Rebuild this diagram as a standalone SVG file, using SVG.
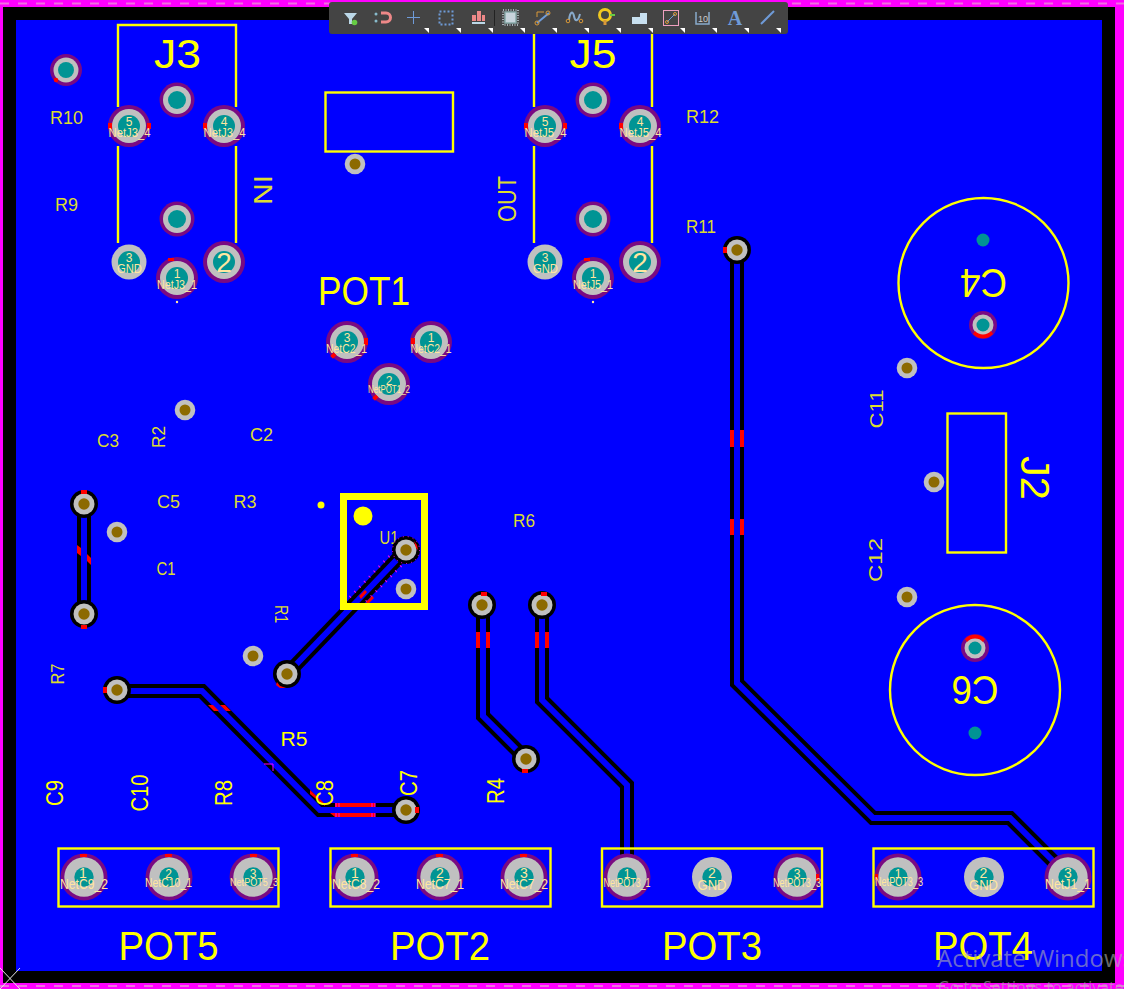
<svg xmlns="http://www.w3.org/2000/svg" width="1124" height="989" viewBox="0 0 1124 989">
<style>
text{font-family:"Liberation Sans","DejaVu Sans",sans-serif}
.sk{fill:none;stroke:#ff0;stroke-width:2.4}
.big{fill:#ff0;font-size:40px;text-anchor:middle}
.mid{fill:#ff0;font-size:23px;text-anchor:middle}
.dim{fill:#dcdc30;font-size:18px;text-anchor:middle}
.num{fill:#ffe6a0;font-size:12px;text-anchor:middle}
.net{fill:#ffe6a0;font-size:12px;text-anchor:middle}
.pur{fill:#7a0a82}.gry{fill:#c0c0c0}.tea{fill:#009494}.bro{fill:#8c6a00}.blk{fill:#000}.red{fill:#f00}
.tro{fill:none;stroke:#000;stroke-width:14;stroke-linejoin:miter}
.tri{fill:none;stroke:#00f;stroke-width:6;stroke-linejoin:miter}
.ico{fill:none;stroke:#6f9bd8;stroke-width:2}
.tb{fill:#fff}
</style>
<defs>
<g id="padL"><circle r="21" class="pur"/><circle r="17" class="gry"/><circle r="11" class="tea"/></g>
<g id="padM"><circle r="17.5" class="pur"/><circle r="14" class="gry"/><circle r="9" class="tea"/></g>
<g id="padS"><circle r="14" class="pur"/><circle r="10.5" class="gry"/><circle r="6.5" class="tea"/></g>
<g id="padR"><circle r="16" class="pur"/><circle r="12.500" class="gry"/><circle r="8" class="tea"/></g>
<g id="padG"><circle r="17.5" class="gry"/><circle r="11" class="tea"/></g>
<g id="padP"><circle r="23.5" class="pur"/><circle r="19.7" class="gry"/><circle r="9.7" class="tea"/></g>
<g id="padQ"><circle r="20" class="gry"/><circle r="9.7" class="tea"/></g>
<g id="via"><circle r="10.3" class="gry"/><circle r="5.5" class="bro"/></g>
<g id="viaB"><circle r="14" class="blk"/><circle r="10.5" class="gry"/><circle r="5.7" class="bro"/></g>
<path id="tg" d="M5 0V-5H0Z" class="tb"/>
</defs>

<g id="board">
<rect width="1124" height="989" fill="#f0f"/>
<path d="M0 3.500H1124" stroke="#f070e0" stroke-width="2" stroke-dasharray="9 9" fill="none"/>
<path d="M0 986H1124" stroke="#f070e0" stroke-width="2" stroke-dasharray="9 9" fill="none"/>
<rect x="3" y="7" width="1112" height="976" fill="#000"/>
<rect x="16" y="20" width="1086" height="951" fill="#00f"/>
<path d="M0 968L20 989M0 989L20 968" stroke="#e8e8e8" stroke-width="1" fill="none"/>
</g>

<g id="connectors">
<g id="t1"><path class="tro" d="M117 691H202L320 810H406"/><path class="tri" d="M117 691H202L320 810H406"/></g>
<g id="t2"><path class="tro" d="M287 674L406 550"/><path class="tri" d="M287 674L406 550"/></g>
<g id="t3"><path class="tro" d="M483 605V716L526 759"/><path class="tri" d="M483 605V716L526 759"/></g>
<g id="t4"><path class="tro" d="M542 605V700L627 785V870"/><path class="tri" d="M542 605V700L627 785V870"/></g>
<g id="t5"><path class="tro" d="M737 250V683L873 818H1010L1070 878"/><path class="tri" d="M737 250V683L873 818H1010L1070 878"/></g>
<g id="t6"><path class="tro" d="M84 504V614"/><path class="tri" d="M84 504V614"/></g>
<g id="marks">
<rect class="red" x="730" y="430" width="4" height="17"/><rect class="red" x="740" y="430" width="4" height="17"/>
<rect class="red" x="730" y="519" width="4" height="16"/><rect class="red" x="740" y="519" width="4" height="16"/>
<rect class="red" x="476" y="632" width="4" height="16"/><rect class="red" x="486" y="632" width="4" height="16"/>
<rect class="red" x="535" y="632" width="4" height="16"/><rect class="red" x="545" y="632" width="4" height="16"/>
<path class="red" d="M77 545L81 548V556L77 553ZM87 554L91 558V565L87 561Z"/>
<path class="red" d="M208 705L213 705L219 711L214 711ZM220 705L225 705L231 711L226 711Z"/>
<path d="M264 764L273 764V771" fill="none" stroke="#f0f" stroke-width="1"/>
<path class="red" d="M310 790L325 804L325 806L310 794ZM335 803H375V807H335ZM330 813H375V817H335Z"/>
<path d="M336 803V807M339 803V807M372 803V807M375 803V807M336 813V817M339 813V817M372 813V817M375 813V817" stroke="#f0f" stroke-width="1" fill="none"/>
<path d="M399 546L349 598M411 556L361 607" stroke="#f0f" stroke-width="2.500" stroke-dasharray="1 6" fill="none"/>
<path class="red" d="M359 596L365 590L367 592L361 599ZM366 602L372 596L374 598L368 604Z"/>
</g>
</g>

<g id="silk">
<path class="sk" d="M118 107V25H236V107M118 146V243M236 146V243"/>
<path class="sk" d="M534 34V107M652 34V107M534 146V243M652 146V243"/>
<rect class="sk" x="325.500" y="92.500" width="127.500" height="59"/>
<rect class="sk" x="947.500" y="413.500" width="58.500" height="139"/>
<rect class="sk" x="58.500" y="848.500" width="220" height="58"/>
<rect class="sk" x="330.500" y="848.500" width="220" height="58"/>
<rect class="sk" x="602" y="848.500" width="220" height="58"/>
<rect class="sk" x="873.500" y="848.500" width="220" height="58"/>
<circle class="sk" cx="983.500" cy="283" r="85"/>
<circle class="sk" cx="975" cy="690" r="85"/>
<rect x="343.500" y="496.500" width="81" height="110" fill="none" stroke="#ff0" stroke-width="7"/>
<circle cx="363" cy="516" r="9.500" fill="#ff0"/>
<circle cx="321" cy="505" r="3.500" fill="#ff0"/>
<circle cx="177" cy="302" r="1.200" fill="#ffe6a0"/>
<circle cx="593" cy="302" r="1.200" fill="#ffe6a0"/>
</g>

<g id="labels">
<text class="big" x="177.500" y="68" textLength="47" lengthAdjust="spacingAndGlyphs">J3</text>
<text class="big" x="593" y="68" textLength="47" lengthAdjust="spacingAndGlyphs">J5</text>
<text class="big" x="364" y="305" textLength="92" lengthAdjust="spacingAndGlyphs">POT1</text>
<text class="big" x="168.500" y="960" textLength="100" lengthAdjust="spacingAndGlyphs">POT5</text>
<text class="big" x="440" y="960" textLength="100" lengthAdjust="spacingAndGlyphs">POT2</text>
<text class="big" x="712" y="960" textLength="100" lengthAdjust="spacingAndGlyphs">POT3</text>
<text class="big" x="983" y="960" textLength="100" lengthAdjust="spacingAndGlyphs">POT4</text>
<text class="big" transform="translate(983.500 283) rotate(180)" y="14" textLength="47" lengthAdjust="spacingAndGlyphs">C4</text>
<text class="big" transform="translate(975 690) rotate(180)" y="14" textLength="47" lengthAdjust="spacingAndGlyphs">C6</text>
<text class="big" transform="translate(1035 478) rotate(90)" y="14" textLength="44" lengthAdjust="spacingAndGlyphs">J2</text>
<text class="dim" x="66.500" y="124" textLength="33" lengthAdjust="spacingAndGlyphs">R10</text>
<text class="dim" x="66.500" y="211" textLength="23" lengthAdjust="spacingAndGlyphs">R9</text>
<text class="dim" x="702.500" y="123" textLength="33" lengthAdjust="spacingAndGlyphs">R12</text>
<text class="dim" x="701" y="233" textLength="30" lengthAdjust="spacingAndGlyphs">R11</text>
<text class="dim" x="108" y="447" textLength="22" lengthAdjust="spacingAndGlyphs">C3</text>
<text class="dim" x="261.500" y="441" textLength="23" lengthAdjust="spacingAndGlyphs">C2</text>
<text class="dim" x="168.500" y="508" textLength="23" lengthAdjust="spacingAndGlyphs">C5</text>
<text class="dim" x="245" y="508" textLength="23" lengthAdjust="spacingAndGlyphs">R3</text>
<text class="dim" x="166" y="575" textLength="19" lengthAdjust="spacingAndGlyphs">C1</text>
<text class="dim" x="524" y="527" textLength="22" lengthAdjust="spacingAndGlyphs">R6</text>
<text class="dim" x="389" y="544" textLength="19" lengthAdjust="spacingAndGlyphs">U1</text>
<text class="dim" transform="translate(158 437) rotate(-90)" y="6.500" textLength="22" lengthAdjust="spacingAndGlyphs">R2</text>
<text class="dim" transform="translate(281 614) rotate(90)" y="6.500" textLength="18" lengthAdjust="spacingAndGlyphs">R1</text>
<text class="dim" transform="translate(57 674) rotate(-90)" y="6.500" textLength="21" lengthAdjust="spacingAndGlyphs">R7</text>
<text class="dim" transform="translate(876 409) rotate(-90)" y="6.500" textLength="39" lengthAdjust="spacingAndGlyphs">C11</text>
<text class="dim" transform="translate(875 560) rotate(-90)" y="6.500" textLength="44" lengthAdjust="spacingAndGlyphs">C12</text>
<text class="dim" style="font-size:25px" transform="translate(263 190) rotate(90)" y="9" textLength="30" lengthAdjust="spacingAndGlyphs">IN</text>
<text class="dim" style="font-size:25px" transform="translate(507 199) rotate(-90)" y="9" textLength="46" lengthAdjust="spacingAndGlyphs">OUT</text>
<text class="mid" style="font-size:20px" x="294" y="746" textLength="27" lengthAdjust="spacingAndGlyphs">R5</text>
<text class="mid" transform="translate(55 793) rotate(-90)" y="8" textLength="26" lengthAdjust="spacingAndGlyphs">C9</text>
<text class="mid" transform="translate(140 793) rotate(-90)" y="8" textLength="37" lengthAdjust="spacingAndGlyphs">C10</text>
<text class="mid" transform="translate(224 793) rotate(-90)" y="8" textLength="26" lengthAdjust="spacingAndGlyphs">R8</text>
<text class="mid" transform="translate(325 793) rotate(-90)" y="8" textLength="26" lengthAdjust="spacingAndGlyphs">C8</text>
<text class="mid" transform="translate(409 783) rotate(-90)" y="8" textLength="26" lengthAdjust="spacingAndGlyphs">C7</text>
<text class="mid" transform="translate(496 791) rotate(-90)" y="8" textLength="26" lengthAdjust="spacingAndGlyphs">R4</text>
</g>

<g id="R10-pad"><use href="#padR" x="66" y="70"/><circle cx="56" cy="80" r="2.200" class="red"/></g>
<g id="J3-shell"><use href="#padM" x="177" y="100"/><use href="#padM" x="177" y="219"/></g>
<g id="J3-5"><use href="#padL" x="129" y="126"/><rect class="red" x="108" y="123" width="4" height="6"/><rect class="red" x="147" y="123" width="4" height="6"/><text class="num" x="129" y="126">5</text><text class="net" x="129.500" y="137" textLength="42" lengthAdjust="spacingAndGlyphs">NetJ3_4</text></g>
<g id="J3-4"><use href="#padL" x="224" y="126"/><rect class="red" x="203" y="123" width="4" height="6"/><text class="num" x="224" y="126">4</text><text class="net" x="224.500" y="137" textLength="42" lengthAdjust="spacingAndGlyphs">NetJ3_4</text></g>
<g id="J3-3"><use href="#padG" x="129" y="262"/><text class="num" x="129" y="262">3</text><text class="net" x="129.500" y="273" textLength="25" lengthAdjust="spacingAndGlyphs">GND</text></g>
<g id="J3-1"><use href="#padL" x="177" y="278"/><rect class="red" x="168" y="258" width="6" height="3"/><text class="num" x="177" y="278">1</text><text class="net" x="177" y="289" textLength="40" lengthAdjust="spacingAndGlyphs">NetJ3_1</text></g>
<g id="J3-2"><use href="#padL" x="224" y="262"/><text x="224" y="272" fill="#ffe6a0" font-size="28" text-anchor="middle">2</text></g>

<g id="J5-shell"><use href="#padM" x="593" y="100"/><use href="#padM" x="593" y="219"/></g>
<g id="J5-5"><use href="#padL" x="545" y="126"/><rect class="red" x="524" y="123" width="4" height="6"/><rect class="red" x="563" y="123" width="4" height="6"/><text class="num" x="545" y="126">5</text><text class="net" x="545.500" y="137" textLength="42" lengthAdjust="spacingAndGlyphs">NetJ5_4</text></g>
<g id="J5-4"><use href="#padL" x="640" y="126"/><rect class="red" x="619" y="123" width="4" height="6"/><text class="num" x="640" y="126">4</text><text class="net" x="640.500" y="137" textLength="42" lengthAdjust="spacingAndGlyphs">NetJ5_4</text></g>
<g id="J5-3"><use href="#padG" x="545" y="262"/><text class="num" x="545" y="262">3</text><text class="net" x="545.500" y="273" textLength="25" lengthAdjust="spacingAndGlyphs">GND</text></g>
<g id="J5-1"><use href="#padL" x="593" y="278"/><rect class="red" x="584" y="258" width="6" height="3"/><text class="num" x="593" y="278">1</text><text class="net" x="593" y="289" textLength="40" lengthAdjust="spacingAndGlyphs">NetJ5_1</text></g>
<g id="J5-2"><use href="#padL" x="640" y="262"/><text x="640" y="272" fill="#ffe6a0" font-size="28" text-anchor="middle">2</text></g>

<g id="POT1-3"><use href="#padL" x="347" y="342"/><rect class="red" x="364" y="338" width="4" height="7"/><rect class="red" x="331" y="354" width="5" height="4" transform="rotate(-45 333 356)"/><text class="num" x="347" y="342">3</text><text class="net" x="346.500" y="353" textLength="41" lengthAdjust="spacingAndGlyphs">NetC2_1</text></g>
<g id="POT1-1"><use href="#padL" x="431" y="342"/><rect class="red" x="411" y="338" width="4" height="6"/><text class="num" x="431" y="342">1</text><text class="net" x="431" y="353" textLength="41" lengthAdjust="spacingAndGlyphs">NetC2_1</text></g>
<g id="POT1-2"><use href="#padL" x="389" y="384"/><rect class="red" x="373" y="396" width="5" height="4" transform="rotate(-45 375 398)"/><text class="num" x="389" y="385">2</text><text class="net" style="font-size:10px" x="389" y="393" textLength="42" lengthAdjust="spacingAndGlyphs">NetPOT1_2</text></g>

<g id="vias">
<use href="#via" x="355" y="164"/><use href="#via" x="185" y="410"/><use href="#via" x="117" y="532"/><use href="#via" x="253" y="656"/>
<use href="#via" x="406" y="589"/><use href="#via" x="907" y="368"/><use href="#via" x="934" y="482"/><use href="#via" x="907" y="597"/>
</g>
<g id="U1-pad"><use href="#viaB" x="406" y="550"/><circle cx="406" cy="550" r="13.500" fill="none" stroke="#f0f" stroke-width="1" stroke-dasharray="1 4"/><path class="red" d="M414 541L417 545L418 550L416 548Z"/></g>
<g id="track-ends">
<use href="#viaB" x="84" y="504"/><rect class="red" x="81" y="490" width="6" height="4"/>
<use href="#viaB" x="84" y="614"/><rect class="red" x="81" y="625" width="6" height="4"/>
<use href="#viaB" x="117" y="690"/><rect class="red" x="103" y="687" width="4" height="6"/>
<use href="#viaB" x="287" y="674"/><path class="red" d="M277 682L280 686L286 688L280 688L276 685Z"/>
<use href="#viaB" x="406" y="810"/><rect class="red" x="415" y="807" width="4" height="6"/>
<use href="#viaB" x="482" y="605"/><rect class="red" x="481" y="592" width="6" height="4"/>
<use href="#viaB" x="542" y="605"/><rect class="red" x="541" y="592" width="6" height="4"/>
<use href="#viaB" x="526" y="759"/><rect class="red" x="522" y="769" width="6" height="4"/>
<use href="#viaB" x="737" y="250"/><rect class="red" x="723" y="247" width="4" height="6"/>
</g>

<g id="C4-pad"><use href="#padS" x="983" y="325"/><path class="red" d="M973 334A14 14 0 0 0 993 334L991 331A11 11 0 0 1 975 331Z"/><circle cx="983" cy="240" r="6.500" class="tea"/></g>
<g id="C6-pad"><use href="#padS" x="975" y="648"/><path class="red" d="M965 639A14 14 0 0 1 985 639L983 642A11 11 0 0 0 967 642Z"/><circle cx="975" cy="733" r="6.500" class="tea"/></g>

<g id="POT5">
<g id="POT5-1"><use href="#padP" x="84" y="877"/><rect class="red" x="80" y="854" width="7" height="3"/><text class="num" x="83" y="878" style="font-size:14px">1</text><text class="net" x="84" y="889" style="font-size:14px" textLength="48" lengthAdjust="spacingAndGlyphs">NetC9_2</text></g>
<g id="POT5-2"><use href="#padP" x="169" y="877"/><rect class="red" x="165" y="854" width="7" height="3"/><text class="num" x="168.500" y="878">2</text><text class="net" x="168.500" y="887" textLength="47" lengthAdjust="spacingAndGlyphs">NetC10_1</text></g>
<g id="POT5-3"><use href="#padP" x="253" y="877"/><rect class="red" x="250" y="854" width="7" height="3"/><text class="num" x="253" y="878">3</text><text class="net" x="254" y="886" style="font-size:11px" textLength="48" lengthAdjust="spacingAndGlyphs">NetPOT5_3</text></g>
</g>
<g id="POT2">
<g id="POT2-1"><use href="#padP" x="355" y="877"/><rect class="red" x="351" y="854" width="7" height="3"/><text class="num" x="355" y="878" style="font-size:14px">1</text><text class="net" x="356" y="889" style="font-size:14px" textLength="48" lengthAdjust="spacingAndGlyphs">NetC8_2</text></g>
<g id="POT2-2"><use href="#padP" x="440" y="877"/><rect class="red" x="436" y="854" width="7" height="3"/><text class="num" x="440" y="878" style="font-size:14px">2</text><text class="net" x="440" y="889" style="font-size:14px" textLength="48" lengthAdjust="spacingAndGlyphs">NetC7_1</text></g>
<g id="POT2-3"><use href="#padP" x="524" y="877"/><rect class="red" x="520" y="854" width="7" height="3"/><text class="num" x="524" y="878" style="font-size:14px">3</text><text class="net" x="524" y="889" style="font-size:14px" textLength="48" lengthAdjust="spacingAndGlyphs">NetC7_2</text></g>
</g>
<g id="POT3">
<g id="POT3-1"><use href="#padP" x="627" y="877"/><text class="num" x="627" y="878">1</text><text class="net" x="627" y="887" textLength="47" lengthAdjust="spacingAndGlyphs">NetPOT3_1</text></g>
<g id="POT3-2"><use href="#padQ" x="712" y="877"/><text class="num" x="712" y="878" style="font-size:14px">2</text><text class="net" x="712" y="890" style="font-size:14px" textLength="29" lengthAdjust="spacingAndGlyphs">GND</text></g>
<g id="POT3-3"><use href="#padP" x="797" y="877"/><rect class="red" x="816" y="874" width="3" height="7"/><text class="num" x="797" y="878">3</text><text class="net" x="797" y="887" textLength="48" lengthAdjust="spacingAndGlyphs">NetPOT3_3</text></g>
</g>
<g id="POT4">
<g id="POT4-1"><use href="#padP" x="898" y="877"/><rect class="red" x="875" y="874" width="3" height="6"/><text class="num" x="898" y="878">1</text><text class="net" x="899" y="886" textLength="48" lengthAdjust="spacingAndGlyphs">NetPOT3_3</text></g>
<g id="POT4-2"><use href="#padQ" x="984" y="877"/><text class="num" x="983.500" y="878" style="font-size:14px">2</text><text class="net" x="983.500" y="890" style="font-size:14px" textLength="29" lengthAdjust="spacingAndGlyphs">GND</text></g>
<g id="POT4-3"><use href="#padP" x="1068" y="877"/><text class="num" x="1068" y="878" style="font-size:14px">3</text><text class="net" x="1068" y="889" style="font-size:14px" textLength="46" lengthAdjust="spacingAndGlyphs">NetJ1_1</text></g>
</g>

<g id="toolbar">
<rect x="329" y="2" width="459" height="32" rx="3" fill="#444"/>
<path d="M494.500 10V26" stroke="#222" stroke-width="1"/>
<path d="M344 13H357L352 19V24H349V19Z" fill="#bcd8e8"/><circle cx="354.500" cy="22.500" r="2.800" fill="#6c4"/>
<path d="M381 13H386A4.500 4.500 0 0 1 386 22H381" fill="none" stroke="#e88" stroke-width="3"/><circle cx="376" cy="14" r="1.500" fill="#8bc"/><circle cx="376" cy="21" r="1.500" fill="#8bc"/>
<path class="ico" style="stroke-width:1" d="M413.500 11V24M407 17.500H420"/>
<rect class="ico" x="439.500" y="11.500" width="13" height="13" style="stroke-dasharray:2 2"/>
<path d="M472 15H476V21H472ZM477 11H481V21H477ZM482 15H485V21H482Z" fill="#e88"/><path d="M472 23H485" stroke="#bcd8e8" stroke-width="2"/>
<rect x="505" y="12" width="11" height="11" fill="#c8d4dc" stroke="#8aa" stroke-width="1.500"/><rect x="503" y="10" width="15" height="15" fill="none" stroke="#c8d4dc" stroke-width="1.500" stroke-dasharray="1 1.500"/>
<path d="M537 23L549 13" class="ico"/><circle cx="537" cy="23" r="2" fill="none" stroke="#d89838"/><circle cx="548" cy="13" r="2" fill="none" stroke="#d89838"/><path d="M537 17V12H544" fill="none" stroke="#d89838"/>
<path class="ico" d="M569 20C570 11 573 11 574 16C575 22 578 22 580 14" style="stroke:#8ac"/><circle cx="568" cy="21" r="1.800" fill="none" stroke="#d89838"/><circle cx="581" cy="21" r="1.800" fill="none" stroke="#d89838"/>
<circle cx="605" cy="15" r="5.500" fill="none" stroke="#f0c820" stroke-width="3"/><path d="M605 20V25" stroke="#d89838" stroke-width="3"/><path d="M610 15H615" stroke="#6c4" stroke-width="2"/>
<path d="M632 24V17H640V13H647V24Z" fill="#c8e0f0"/>
<rect x="663.500" y="10.500" width="15" height="15" fill="none" stroke="#f0a0c0"/><path d="M667 22L675 14" stroke="#6f9bd8"/><circle cx="667" cy="22" r="1.500" fill="none" stroke="#d89838"/><circle cx="675" cy="14" r="1.500" fill="none" stroke="#d89838"/>
<path d="M696 12V24H709V12" fill="none" stroke="#8ac" stroke-width="1.500"/><text x="703" y="22" font-size="9" fill="#ccc" text-anchor="middle">10</text>
<text x="735" y="25" font-size="20" fill="#6f9bd8" text-anchor="middle" style="font-family:'Liberation Serif',serif;font-weight:bold">A</text>
<path d="M761 24L774 11" stroke="#6f9bd8" stroke-width="2"/>
<use href="#tg" x="424" y="33"/><use href="#tg" x="456" y="33"/><use href="#tg" x="488" y="33"/><use href="#tg" x="520" y="33"/><use href="#tg" x="552" y="33"/><use href="#tg" x="584" y="33"/><use href="#tg" x="616" y="33"/><use href="#tg" x="648" y="33"/><use href="#tg" x="680" y="33"/><use href="#tg" x="712" y="33"/><use href="#tg" x="744" y="33"/><use href="#tg" x="776" y="33"/>
</g>

<g id="watermark">
<text x="937" y="967" style="font-family:'Open Sans',sans-serif" font-size="24" fill="#b0b0b0" fill-opacity=".6">Activate Windows</text>
<text x="938" y="993" style="font-family:'Open Sans',sans-serif" font-size="16" fill="#b0b0b0" fill-opacity=".6">Go to Settings to activate Windows.</text>
</g>
</svg>
